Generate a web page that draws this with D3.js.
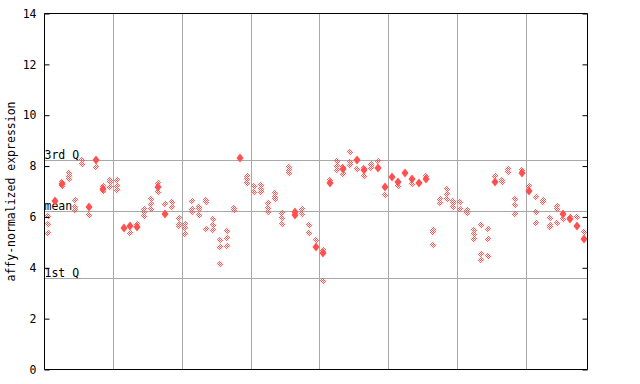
<!doctype html>
<html>
  <head>
    <meta charset="utf-8">
    <title>affy-normalized expression</title>
    <script src="https://cdnjs.cloudflare.com/ajax/libs/d3/7.8.5/d3.min.js"></script>
    <style>
      body { margin: 0; background: #fff; }
      text { font-family: "DejaVu Sans Mono", monospace; font-size: 11.5px; fill: #000; }
    </style>
  </head>
  <body>
    <div id="chart"></div>
    <script>
      // one entry per sample (79 samples), hatched and solid diamonds
      const hatched = [
        [6.02, 5.74, 5.35], [], [7.38, 7.22], [7.72, 7.60, 7.51], [6.66, 6.38, 6.26],
        [8.25, 8.09], [6.06], [7.97], [7.20, 7.02], [7.47, 7.38, 7.16],
        [7.45, 7.22, 7.04], [], [5.35], [5.74], [6.33, 6.20, 6.04],
        [6.70, 6.50, 6.33], [7.32, 6.99], [6.49], [6.57, 6.38], [5.94, 5.72, 5.65],
        [5.71, 5.58, 5.31], [6.62, 6.30, 6.20], [6.40, 6.30, 6.06], [6.66, 6.57, 5.54], [5.91, 5.67, 5.50],
        [5.11, 4.80, 4.14], [5.44, 5.19, 4.85], [6.36, 6.28], [], [7.62, 7.51, 7.34],
        [7.20, 7.00], [7.25, 7.10, 7.00], [6.53, 6.37, 6.20], [6.96, 6.80, 6.69], [6.17, 5.94, 5.73],
        [7.95, 7.84, 7.71], [], [6.30, 6.10], [5.67, 5.35], [5.08],
        [4.69, 3.47], [7.45], [8.18, 8.00, 7.83], [7.97, 7.68], [8.54, 8.17, 8.04],
        [7.87], [7.91, 7.59], [8.10, 8.04, 7.91], [8.18], [6.88],
        [], [7.22], [], [7.28], [],
        [7.60], [5.50, 5.42, 4.91], [6.72, 6.53], [7.08, 6.92, 6.72], [6.63, 6.53, 6.39],
        [6.59, 6.33], [6.29, 6.16], [5.48, 5.31, 5.15], [5.70, 4.56, 4.29], [5.54, 5.15, 4.45],
        [7.60], [7.45, 7.36], [7.87, 7.77], [6.70, 6.45, 6.13], [7.84],
        [7.21], [6.77, 6.21, 5.78], [6.66, 6.59], [5.94, 5.67, 5.62], [6.42, 6.30, 5.78],
        [5.90], [6.00], [5.98], [5.39]
      ];
      const solid = [
        [], [6.63], [7.30], [], [],
        [], [6.38], [8.22], [7.10], [],
        [], [5.57], [5.65], [5.61], [],
        [], [7.18], [6.13], [], [],
        [], [], [], [], [],
        [], [], [], [8.31], [],
        [], [], [], [], [],
        [], [6.20, 6.08], [], [], [4.82],
        [4.58], [7.32], [], [7.87], [],
        [8.24], [7.84], [], [7.93], [7.18],
        [7.58], [7.38], [7.71], [7.51], [7.34],
        [7.51], [], [], [], [],
        [], [], [], [], [],
        [7.38], [], [], [], [7.73],
        [7.01], [], [], [], [],
        [6.13], [5.90], [5.65], [5.15]
      ];

      const yTicks = [0, 2, 4, 6, 8, 10, 12, 14];
      const statNames = ['3rd Q', 'mean', '1st Q'];
      const statValues = [8.22, 6.22, 3.61];
      const groupBreaks = [10, 20, 30, 40, 50, 60, 70];

      const width = 640, height = 384;
      const mLeft = 44.5, mRight = 587.5, mTop = 13.5, mBottom = 369.5;
      const red = '#ff4f4f', grid = '#a8a8a8';

      const svg = d3.select('#chart').append('svg')
        .attr('width', width)
        .attr('height', height);

      // checker pattern for the hatched diamonds
      const pat = svg.append('defs').append('pattern')
        .attr('id', 'checker')
        .attr('patternUnits', 'userSpaceOnUse')
        .attr('width', 2).attr('height', 2);
      pat.append('rect').attr('x', 0).attr('y', 0).attr('width', 1).attr('height', 1).attr('fill', red);
      pat.append('rect').attr('x', 1).attr('y', 1).attr('width', 1).attr('height', 1).attr('fill', red);

      const x = d3.scaleLinear().domain([0, hatched.length]).range([mLeft, mRight]);
      const y = d3.scaleLinear().domain([0, 14]).range([mBottom, mTop]);

      // vertical group lines
      svg.selectAll('line.vgrid')
        .data(groupBreaks)
        .join('line')
        .attr('class', 'vgrid')
        .attr('x1', d => Math.round(x(d)) + 0.5)
        .attr('x2', d => Math.round(x(d)) + 0.5)
        .attr('y1', mTop).attr('y2', mBottom)
        .attr('stroke', grid);

      // stat lines
      svg.selectAll('line.stat')
        .data(statValues)
        .join('line')
        .attr('class', 'stat')
        .attr('x1', mLeft).attr('x2', mRight)
        .attr('y1', d => Math.round(y(d)) + 0.5)
        .attr('y2', d => Math.round(y(d)) + 0.5)
        .attr('stroke', grid);

      svg.selectAll('text.stat')
        .data(statNames)
        .join('text')
        .attr('class', 'stat')
        .attr('x', mLeft)
        .attr('y', (d, i) => Math.round(y(statValues[i])) - 1)
        .text(d => d);

      // points
      const pts = [];
      hatched.forEach((vals, i) => vals.forEach(v => pts.push({ i, v, s: false })));
      solid.forEach((vals, i) => vals.forEach(v => pts.push({ i, v, s: true })));

      const diamond = (cx, cy, w, h) =>
        `M${cx},${cy - h}L${cx + w},${cy}L${cx},${cy + h}L${cx - w},${cy}Z`;

      svg.selectAll('path.pt')
        .data(pts)
        .join('path')
        .attr('class', 'pt')
        .attr('d', d => {
          const cx = Math.round(x(d.i + 0.5));
          const cy = Math.round(y(d.v));
          return d.s ? diamond(cx, cy, 3.5, 4.5) : diamond(cx, cy, 3.5, 3.5);
        })
        .attr('fill', d => d.s ? red : 'url(#checker)');

      // axes frame
      const yAxisL = d3.axisLeft(y).tickValues(yTicks).tickSize(-5).tickPadding(8);
      const gl = svg.append('g').attr('transform', `translate(${mLeft},0)`).call(yAxisL);
      const yAxisR = d3.axisRight(y).tickValues(yTicks).tickSize(-5).tickFormat('');
      const gr = svg.append('g').attr('transform', `translate(${mRight},0)`).call(yAxisR);
      [gl, gr].forEach(g => {
        g.select('.domain').attr('stroke', '#000').attr('d', `M0,${mTop}V${mBottom}`);
        g.selectAll('.tick line').attr('stroke', '#000');
        g.selectAll('text').style('font-family', '"DejaVu Sans Mono", monospace').style('font-size', '11.5px');
      });
      svg.append('line').attr('x1', mLeft).attr('x2', mRight).attr('y1', mTop).attr('y2', mTop).attr('stroke', '#000');
      svg.append('line').attr('x1', mLeft).attr('x2', mRight).attr('y1', mBottom).attr('y2', mBottom).attr('stroke', '#000');

      svg.append('text')
        .attr('transform', `translate(15,${(mTop + mBottom) / 2}) rotate(-90)`)
        .attr('text-anchor', 'middle')
        .text('affy-normalized expression');
    </script>
  </body>
</html>
